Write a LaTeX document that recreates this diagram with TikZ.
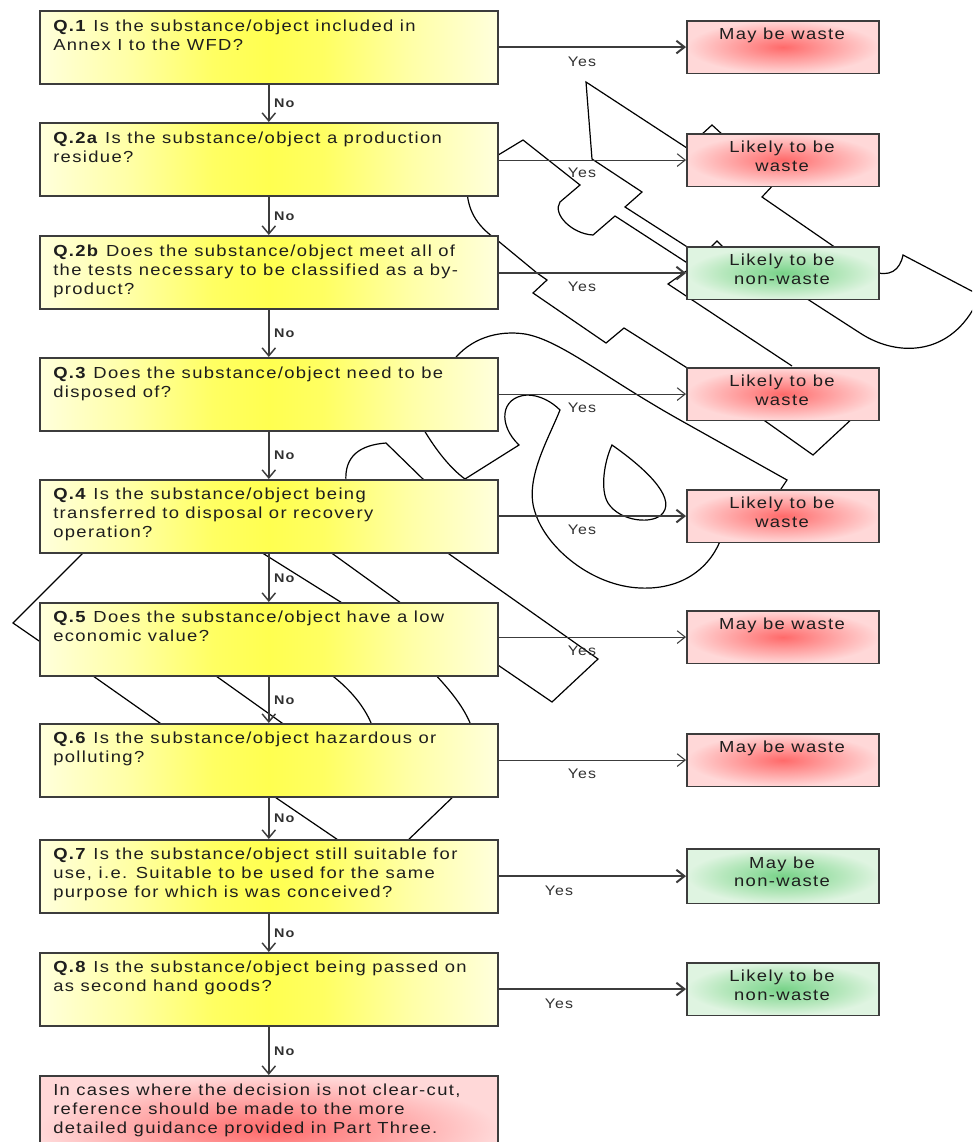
\documentclass[tikz,border=0pt]{standalone}
\usepackage{fontspec}
\setmainfont{Liberation Sans}
\newfontfamily\qfont[FakeStretch=1.15,LetterSpace=8.5]{Liberation Sans}
\usetikzlibrary{arrows.meta}
\definecolor{edge}{HTML}{3C3C3C}
\definecolor{txt}{HTML}{1E1E1E}
\definecolor{ltxt}{HTML}{303030}
\definecolor{ycore}{HTML}{FFFF50}
\definecolor{yin}{HTML}{FFFF62}
\definecolor{ymid}{HTML}{FFFFA4}
\definecolor{yout}{HTML}{FFFFDC}
\definecolor{rcore}{HTML}{FF6A6A}
\definecolor{rin}{HTML}{FF8080}
\definecolor{rmid}{HTML}{FFB0B0}
\definecolor{rout}{HTML}{FFD8D8}
\definecolor{gcore}{HTML}{78D288}
\definecolor{gin}{HTML}{8CDA9A}
\definecolor{gmid}{HTML}{B8E8BE}
\definecolor{gout}{HTML}{DFF4E1}
\pgfdeclarehorizontalshading{yshade}{100bp}{color(0bp)=(yout);color(25bp)=(yout);color(35bp)=(ymid);color(44bp)=(yin);color(50bp)=(ycore);color(56bp)=(yin);color(65bp)=(ymid);color(75bp)=(yout);color(100bp)=(yout)}
\pgfdeclareradialshading{rshade}{\pgfpoint{0bp}{0bp}}{color(0bp)=(rcore);color(5bp)=(rin);color(16bp)=(rmid);color(25bp)=(rout);color(50bp)=(rout)}
\pgfdeclareradialshading{gshade}{\pgfpoint{0bp}{0bp}}{color(0bp)=(gcore);color(5bp)=(gin);color(16bp)=(gmid);color(25bp)=(gout);color(50bp)=(gout)}
\begin{document}
\begin{tikzpicture}[x=0.75pt,y=-0.75pt,
  scrib/.style={draw=black,line width=0.9pt,line join=miter},
  qbox/.style={draw=edge,line width=1.2pt,shading=yshade,shading angle=0,minimum width=343.5pt,minimum height=55pt,inner sep=0pt,anchor=north west},
  finbox/.style={draw=edge,line width=1.2pt,shading=rshade,minimum width=343.5pt,minimum height=80pt,inner sep=0pt,anchor=north west},
  rbox/.style={draw=edge,line width=1.2pt,shading=rshade,minimum width=144pt,minimum height=39.4pt,inner sep=0pt,anchor=north west},
  gbox/.style={draw=edge,line width=1.2pt,shading=gshade,minimum width=144pt,minimum height=39.4pt,inner sep=0pt,anchor=north west},
  qtext/.style={anchor=north west,inner sep=0pt,align=left,text=txt,font=\qfont\fontsize{12}{14.25}\selectfont},
  rtext/.style={anchor=north,inner sep=0pt,align=center,text=txt,font=\qfont\fontsize{12}{13.7}\selectfont},
  yeslab/.style={inner sep=0pt,text=ltxt,font=\qfont\fontsize{10.4}{11}\selectfont},
  nolab/.style={anchor=west,inner sep=0pt,xshift=3.5pt,text=ltxt,font=\qfont\bfseries\fontsize{9.4}{10}\selectfont},
  harrthick/.style={draw=edge,line width=1.5pt,-{Straight Barb[length=6pt,width=9.5pt]}},
  harrthin/.style={draw=edge,line width=0.8pt,-{Straight Barb[length=6pt,width=9.5pt]}},
  varr/.style={draw=edge,line width=1.1pt,-{Straight Barb[length=6pt,width=10pt]}}
]
\useasboundingbox (0,0) rectangle (972,1142);
\clip (0,0) rectangle (972,1142);

% ---------- overlay scribbles (drawn beneath the boxes) ----------
\draw[scrib] (690,150) -- (586,82) -- (592,159) -- (642,192) -- (625,207) -- (692,250);
\draw[scrib] (490,160) -- (523,140) -- (580,185) -- (560,202)
  .. controls (552,214) and (572,234) .. (593,235) -- (615,216) -- (692,266);
\draw[scrib] (700,136) -- (712,125) -- (724,136);
\draw[scrib] (776,182) -- (762,197) -- (836,248);
\draw[scrib] (709,249) -- (717,241) -- (725,249);
\draw[scrib] (872,271) .. controls (890,278) and (900,270) .. (903,255) -- (985,298);
\draw[scrib] (798,293) -- (860,333) .. controls (898,358) and (952,356) .. (978,300);
\draw[scrib] (467,190) .. controls (468,214) and (480,228) .. (497,240)
  -- (537,273) -- (547,280) -- (533,293) -- (606,343) -- (624,328) -- (692,371);
\draw[scrib] (692,267) -- (668,284) -- (792,366);
\draw[scrib] (452,362) .. controls (470,338) and (498,330) .. (525,334)
  .. controls (560,340) and (605,378) .. (680,420) -- (787,480) -- (779,492);
\draw[scrib] (758,416) -- (813,455) -- (855,416);
\draw[scrib] (424,430) .. controls (436,450) and (450,468) .. (465,479) -- (519,445)
  .. controls (498,425) and (500,397) .. (527,395)
  .. controls (540,395) and (552,402) .. (560,410)
  .. controls (548,440) and (524,480) .. (535,512)
  .. controls (546,548) and (592,586) .. (640,588)
  .. controls (684,590) and (712,566) .. (722,536);
\draw[scrib] (612,445) .. controls (642,466) and (676,496) .. (663,513)
  .. controls (654,525) and (620,522) .. (608,503)
  .. controls (600,490) and (604,462) .. (612,445) -- cycle;
\draw[scrib] (346,482) .. controls (344,456) and (360,445) .. (386,443) -- (426,482);
\draw[scrib] (88,548) -- (13,623) -- (42,643);
\draw[scrib] (256,549) -- (347,606);
\draw[scrib] (326,549) -- (405,606);
\draw[scrib] (442,549) -- (598,659) -- (552,702) -- (492,661);
\draw[scrib] (86,671) -- (167,728);
\draw[scrib] (209,671) -- (289,728);
\draw[scrib] (326,671) .. controls (350,688) and (366,708) .. (373,728);
\draw[scrib] (432,671) .. controls (450,690) and (465,708) .. (472,728);
\draw[scrib] (269,793) -- (344,844);
\draw[scrib] (457,793) -- (404,844);

% ---------- question boxes ----------
\node[qbox] (q1)  at (39,10) {};
\node[qbox] (q2a) at (39,122) {};
\node[qbox] (q2b) at (39,235) {};
\node[qbox] (q3)  at (39,357) {};
\node[qbox] (q4)  at (39,479) {};
\node[qbox] (q5)  at (39,602) {};
\node[qbox] (q6)  at (39,723) {};
\node[qbox] (q7)  at (39,839) {};
\node[qbox] (q8)  at (39,952) {};
\node[finbox] (fin) at (39,1075) {};

\node[qtext] (q1t)  at (53,20)  {\textbf{Q.1} Is the substance/object included in\\Annex I to the WFD?};
\node[qtext] (q2at) at (53,132) {\textbf{Q.2a} Is the substance/object a production\\residue?};
\node[qtext] (q2bt) at (53,245) {\textbf{Q.2b} Does the substance/object meet all of\\the tests necessary to be classified as a by-\\product?};
\node[qtext] (q3t)  at (53,367) {\textbf{Q.3} Does the substance/object need to be\\disposed of?};
\node[qtext] (q4t)  at (53,488) {\textbf{Q.4} Is the substance/object being\\transferred to disposal or recovery\\operation?};
\node[qtext] (q5t)  at (53,611) {\textbf{Q.5} Does the substance/object have a low\\economic value?};
\node[qtext] (q6t)  at (53,732) {\textbf{Q.6} Is the substance/object hazardous or\\polluting?};
\node[qtext] (q7t)  at (53,848) {\textbf{Q.7} Is the substance/object still suitable for\\use, i.e. Suitable to be used for the same\\purpose for which is was conceived?};
\node[qtext] (q8t)  at (53,961) {\textbf{Q.8} Is the substance/object being passed on\\as second hand goods?};
\node[qtext] (fint) at (53,1084) {In cases where the decision is not clear-cut,\\reference should be made to the more\\detailed guidance provided in Part Three.};

% ---------- result boxes ----------
\node[rbox] (r1) at (686,20) {};
\node[rbox] (r2) at (686,133) {};
\node[gbox] (r3) at (686,246) {};
\node[rbox] (r4) at (686,367) {};
\node[rbox] (r5) at (686,489) {};
\node[rbox] (r6) at (686,610) {};
\node[rbox] (r7) at (686,733) {};
\node[gbox,minimum height=41pt] (r8) at (686,848) {};
\node[gbox] (r9) at (686,962) {};

\node[rtext] (r1t) at (782,28)  {May be waste};
\node[rtext] (r2t) at (782,141) {Likely to be\\waste};
\node[rtext] (r3t) at (782,254) {Likely to be\\non-waste};
\node[rtext] (r4t) at (782,375) {Likely to be\\waste};
\node[rtext] (r5t) at (782,497) {Likely to be\\waste};
\node[rtext] (r6t) at (782,618) {May be waste};
\node[rtext] (r7t) at (782,741) {May be waste};
\node[rtext] (r8t) at (782,856.5) {May be\\non-waste};
\node[rtext] (r9t) at (782,970) {Likely to be\\non-waste};

% ---------- Yes connectors ----------
\draw[harrthick] (q1.east |- r1.west)  -- (r1.west);
\draw[harrthin]  (q2a.east |- r2.west) -- (r2.west);
\draw[harrthick] (q2b.east |- r3.west) -- (r3.west);
\draw[harrthin]  (q3.east |- r4.west)  -- (r4.west);
\draw[harrthick] (q4.east |- r5.west)  -- (r5.west);
\draw[harrthin]  (q5.east |- r6.west)  -- (r6.west);
\draw[harrthin]  (q6.east |- r7.west)  -- (r7.west);
\draw[harrthick] (q7.east |- r8.west)  -- (r8.west);
\draw[harrthick] (q8.east |- r9.west)  -- (r9.west);

\node[yeslab] (y1) at (582,61.5)  {Yes};
\node[yeslab] (y2) at (582,173)   {Yes};
\node[yeslab] (y3) at (582,286.5) {Yes};
\node[yeslab] (y4) at (582,407.5) {Yes};
\node[yeslab] (y5) at (582,529.5) {Yes};
\node[yeslab] (y6) at (582,651)   {Yes};
\node[yeslab] (y7) at (582,774)   {Yes};
\node[yeslab] (y8) at (559,890.5) {Yes};
\node[yeslab] (y9) at (559,1003.5){Yes};

% ---------- No connectors ----------
\draw[varr] (q1.south)  -- node[nolab] (n1) {No} (q2a.north);
\draw[varr] (q2a.south) -- node[nolab] (n2) {No} (q2b.north);
\draw[varr] (q2b.south) -- node[nolab] (n3) {No} (q3.north);
\draw[varr] (q3.south)  -- node[nolab] (n4) {No} (q4.north);
\draw[varr] (q4.south)  -- node[nolab] (n5) {No} (q5.north);
\draw[varr] (q5.south)  -- node[nolab] (n6) {No} (q6.north);
\draw[varr] (q6.south)  -- node[nolab] (n7) {No} (q7.north);
\draw[varr] (q7.south)  -- node[nolab] (n8) {No} (q8.north);
\draw[varr] (q8.south)  -- node[nolab] (n9) {No} (fin.north);
\end{tikzpicture}
\end{document}
